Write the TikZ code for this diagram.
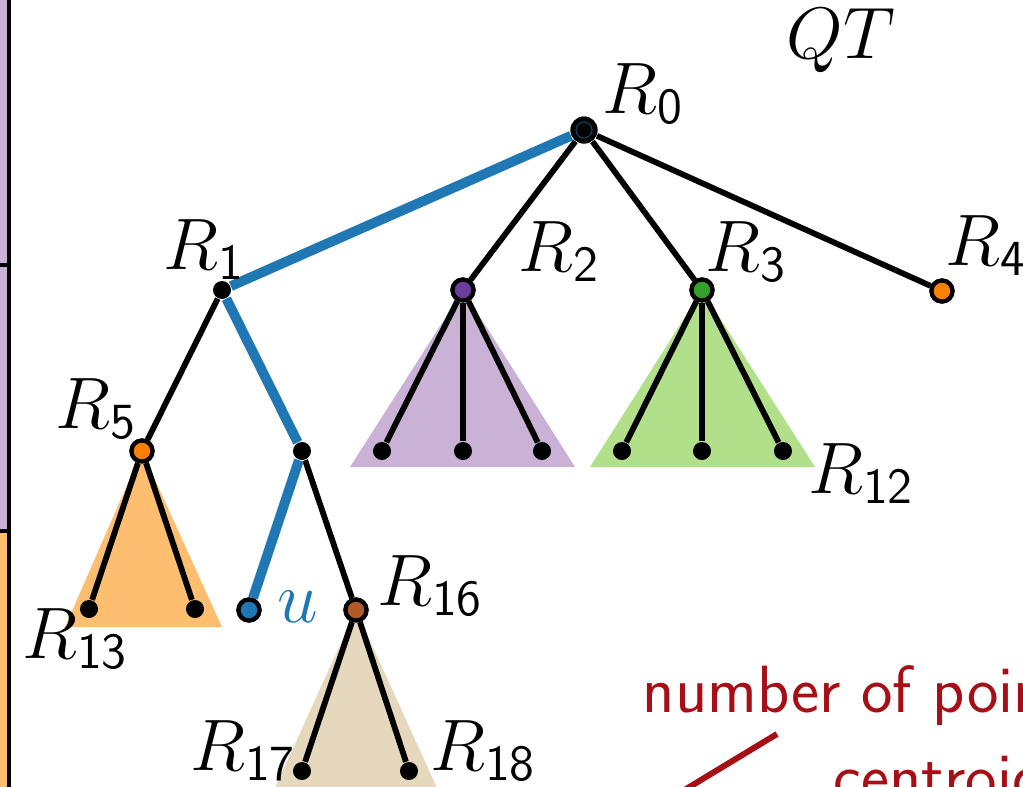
\documentclass[tikz,border=0pt]{standalone}
\usetikzlibrary{positioning}
\definecolor{pairblue}{HTML}{1F78B4}
\definecolor{pairpurple}{HTML}{6A3D9A}
\definecolor{lightpurple}{HTML}{CAB2D6}
\definecolor{pairgreen}{HTML}{33A02C}
\definecolor{lightgreen}{HTML}{B2DF8A}
\definecolor{pairorange}{HTML}{FF7F00}
\definecolor{lightorange}{HTML}{FDBF6F}
\definecolor{pairbrown}{HTML}{B15928}
\definecolor{lighttan}{HTML}{E5D8BD}
\definecolor{notered}{HTML}{A50F15}
\tikzset{
    leaf/.style={circle, fill=black, inner sep=0pt, minimum size=0.18cm},
    rootv/.style={circle, fill=black, inner sep=0pt, minimum size=0.27cm},
    vtx/.style={circle, draw=black, line width=1.2pt, inner sep=0pt, minimum size=0.21cm},
    tedge/.style={line width=1.65pt, black},
    pedge/.style={line width=2.8pt, pairblue},
    lbl/.style={inner sep=0pt, anchor=base west, font=\fontsize{19.5}{23}\selectfont},
    note/.style={inner sep=0pt, anchor=base west, text=notered, font=\fontsize{19}{23}\selectfont\sffamily},
    bar/.style={draw=black, line width=0.9pt},
}

\begin{document}
\begin{tikzpicture}[x=0.01cm, y=-0.01cm]

\useasboundingbox (0,0) rectangle (1023,787);
\clip (0,0) rectangle (1023,787);

% ── bars on the left ──
\fill[lightpurple] (-60,-20) rectangle (9,265);
\fill[lightpurple] (-60,265) rectangle (9,531);
\fill[lightorange] (-60,531) rectangle (9,820);
\draw[bar] (-60,265) -- (9,265);
\draw[bar] (-60,531) -- (9,531);
\draw[line width=1.4pt] (9,-20) -- (9,820);

% ── tree nodes ──
\node[rootv] (r0) at (584,130) {};
\node[leaf] (r1) at (222,290) {};
\node[vtx, fill=pairpurple] (r2) at (463,290) {};
\node[vtx, fill=pairgreen] (r3) at (702,290) {};
\node[vtx, fill=pairorange] (r4) at (942,291) {};
\node[vtx, fill=pairorange] (r5) at (142,451) {};
\node[leaf] (mid) at (302,451) {};
\node[vtx, fill=pairblue] (u) at (249,610) {};
\node[vtx, fill=pairbrown] (r16) at (356,610) {};

% ── subtrees ──
\fill[lightpurple] (r2.center) -- (350,467) -- (575,467) -- cycle;
\fill[lightgreen] (r3.center) -- (590,467) -- (815,467) -- cycle;
\fill[lightorange] (r5.center) -- (65,627) -- (222,627) -- cycle;
\fill[lighttan] (r16.center) -- (274,790) -- (438,790) -- cycle;

\node[leaf] (a1) at (382,451) {};
\node[leaf] (a2) at (463,451) {};
\node[leaf] (a3) at (542,451) {};
\node[leaf] (b1) at (622,451) {};
\node[leaf] (b2) at (702,451) {};
\node[leaf] (b3) at (783,451) {};
\node[leaf] (c1) at (89,609) {};
\node[leaf] (c2) at (195,609) {};
\node[leaf] (r17) at (302,771) {};
\node[leaf] (r18) at (409,771) {};

% ── edges ──
\draw[tedge] (r0) -- (r2);
\draw[tedge] (r0) -- (r3);
\draw[tedge] (r0) -- (r4);
\draw[tedge] (r1) -- (r5);
\draw[tedge] (mid) -- (r16);
\foreach \c in {a1, a2, a3} \draw[tedge] (r2) -- (\c);
\foreach \c in {b1, b2, b3} \draw[tedge] (r3) -- (\c);
\foreach \c in {c1, c2} \draw[tedge] (r5) -- (\c);
\foreach \c in {r17, r18} \draw[tedge] (r16) -- (\c);

% path to u
\draw[pedge] (r0) -- (r1);
\draw[pedge] (r1) -- (mid);
\draw[pedge] (mid) -- (u);

% redraw nodes on top
\node[rootv] at (r0) {};
\draw[pairblue!60!black, line width=0.3pt] (r0) circle (8);
\node[vtx, fill=pairpurple] at (r2) {};
\node[vtx, fill=pairgreen] at (r3) {};
\node[vtx, fill=pairorange] at (r4) {};
\node[vtx, fill=pairorange] at (r5) {};
\node[vtx, fill=pairblue] at (u) {};
\node[vtx, fill=pairbrown] at (r16) {};

% ── labels ──
\node[lbl, font=\fontsize{20.5}{24}\selectfont] (qt) at (786,58) {$QT$};
\node[lbl] (l0) at (602,113) {$R_{\mathsf{0}}$};
\node[lbl] (l1) at (163,269) {$R_{\mathsf{1}}$};
\node[lbl] (l2) at (518,271) {$R_{\mathsf{2}}$};
\node[lbl] (l3) at (705,271) {$R_{\mathsf{3}}$};
\node[lbl] (l4) at (945,265) {$R_{\mathsf{4}}$};
\node[lbl] (l5) at (55,428) {$R_{\mathsf{5}}$};
\node[lbl] (l12) at (808,493) {$R_{\mathsf{12}}$};
\node[lbl] (l13) at (22,658) {$R_{\mathsf{13}}$};
\node[lbl] (l16) at (377,605) {$R_{\mathsf{16}}$};
\node[lbl] (l17) at (190,770) {$R_{\mathsf{17}}$};
\node[lbl] (l18) at (430,770) {$R_{\mathsf{18}}$};
\node[lbl, text=pairblue] (lu) at (277,622) {$u$};

% ── note ──
\node[note] (npts) at (642,712) {number of points};
\node[note] (cent) at (833,799) {centroid};
\coordinate (ptrtop) at (777,734);
\coordinate (ptrend) at (610,835);
\draw[notered, line width=1.7pt] (ptrtop) -- (ptrend);

\end{tikzpicture}
\end{document}
